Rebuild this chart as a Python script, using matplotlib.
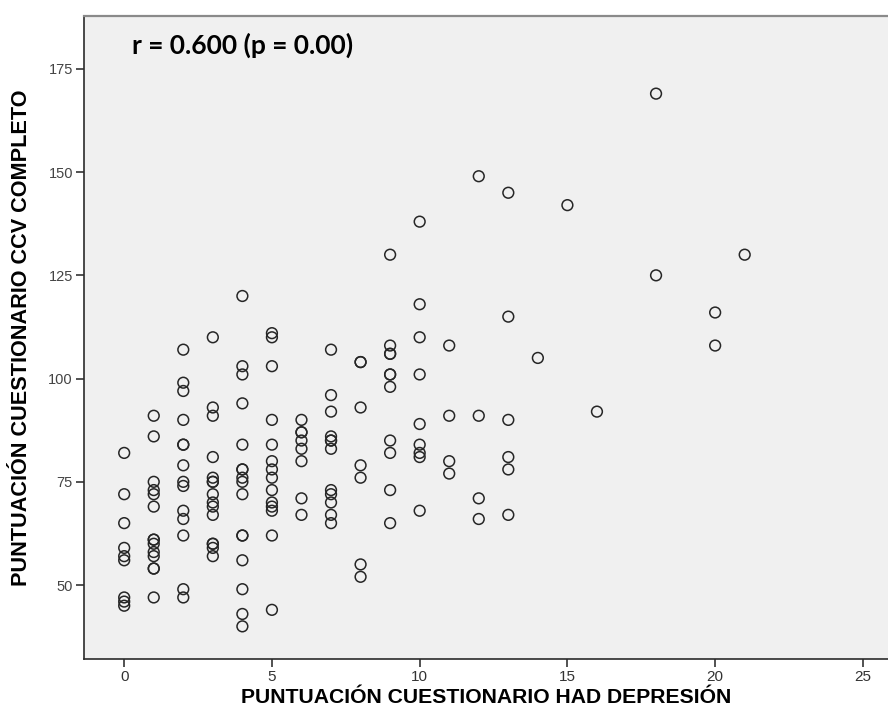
import matplotlib
matplotlib.use('Agg')
import matplotlib.pyplot as plt

# HAD depression score and CCV questionnaire total, one row per HAD value
had_depresion = (
    [0] * 9 + [1] * 14 + [2] * 14 + [3] * 15 + [4] * 16 + [5] * 14
    + [6] * 8 + [7] * 12 + [8] * 7 + [9] * 11 + [10] * 9 + [11] * 4
    + [12] * 4 + [13] * 6 + [14, 15, 16, 18, 18, 20, 20, 21]
)
ccv_completo = [
    82, 72, 65, 59, 57, 56, 47, 46, 45,
    91, 86, 75, 73, 72, 69, 61, 61, 60, 58, 57, 54, 54, 47,
    107, 99, 97, 90, 84, 84, 79, 75, 74, 68, 66, 62, 49, 47,
    110, 93, 91, 81, 76, 75, 75, 72, 70, 69, 67, 60, 60, 59, 57,
    120, 103, 101, 94, 84, 78, 78, 76, 75, 72, 62, 62, 56, 49, 43, 40,
    111, 110, 103, 90, 84, 80, 78, 76, 73, 70, 69, 68, 62, 44,
    90, 87, 87, 85, 83, 80, 71, 67,
    107, 96, 92, 86, 85, 85, 83, 73, 72, 70, 67, 65,
    104, 104, 93, 79, 76, 55, 52,
    130, 108, 106, 106, 101, 101, 98, 85, 82, 73, 65,
    138, 118, 110, 101, 89, 84, 82, 81, 68,
    108, 91, 80, 77,
    149, 91, 71, 66,
    145, 115, 90, 81, 78, 67,
    105, 142, 92, 169, 125, 116, 108, 130,
]

x_ticks = [0, 5, 10, 15, 20, 25]
y_ticks = [50, 75, 100, 125, 150, 175]
x_title = "PUNTUACIÓN CUESTIONARIO HAD DEPRESIÓN"
y_title = "PUNTUACIÓN CUESTIONARIO CCV COMPLETO"
corr_text = "r = 0.600 (p = 0.00)"

narrow = ['Liberation Sans Narrow', 'Liberation Sans', 'DejaVu Sans']
sans = ['Liberation Sans', 'DejaVu Sans']

fig = plt.figure(figsize=(8.88, 7.24), dpi=100)
ax = fig.add_axes([0.0946, 0.0898, 0.9054, 0.8881])
ax.set_facecolor('#f0f0f0')

ax.scatter(had_depresion, ccv_completo, s=60, facecolors='none',
           edgecolors='#262626', linewidths=1.1, zorder=3)

ax.set_xlim(-1.36, 25.85)
ax.set_ylim(32.1, 187.8)
ax.set_xticks(x_ticks)
ax.set_yticks(y_ticks)
ax.set_xticklabels([str(t) for t in x_ticks], family=narrow, fontsize=11, color='#333333')
ax.set_yticklabels([str(t) for t in y_ticks], family=narrow, fontsize=10.5, color='#444444')
ax.tick_params(direction='out', length=6, width=1.2, color='#333333', pad=2)

for side in ('left', 'bottom'):
    ax.spines[side].set_color('#2b2b2b')
    ax.spines[side].set_linewidth(1.2)
ax.spines['top'].set_color('#8a8a8a')
ax.spines['top'].set_linewidth(1.6)
ax.spines['right'].set_visible(False)

ax.set_xlabel(x_title, family=sans, fontsize=15.2, fontweight='bold', labelpad=2.5)
ax.set_ylabel(y_title, family=sans, fontsize=15.6, fontweight='bold', labelpad=12)

ax.text(0.06, 0.955, corr_text, transform=ax.transAxes, ha='left', va='center',
        family=['Lato', 'DejaVu Sans'], fontsize=19, fontweight='bold', color='black')

fig.savefig('out.png', dpi=100)
